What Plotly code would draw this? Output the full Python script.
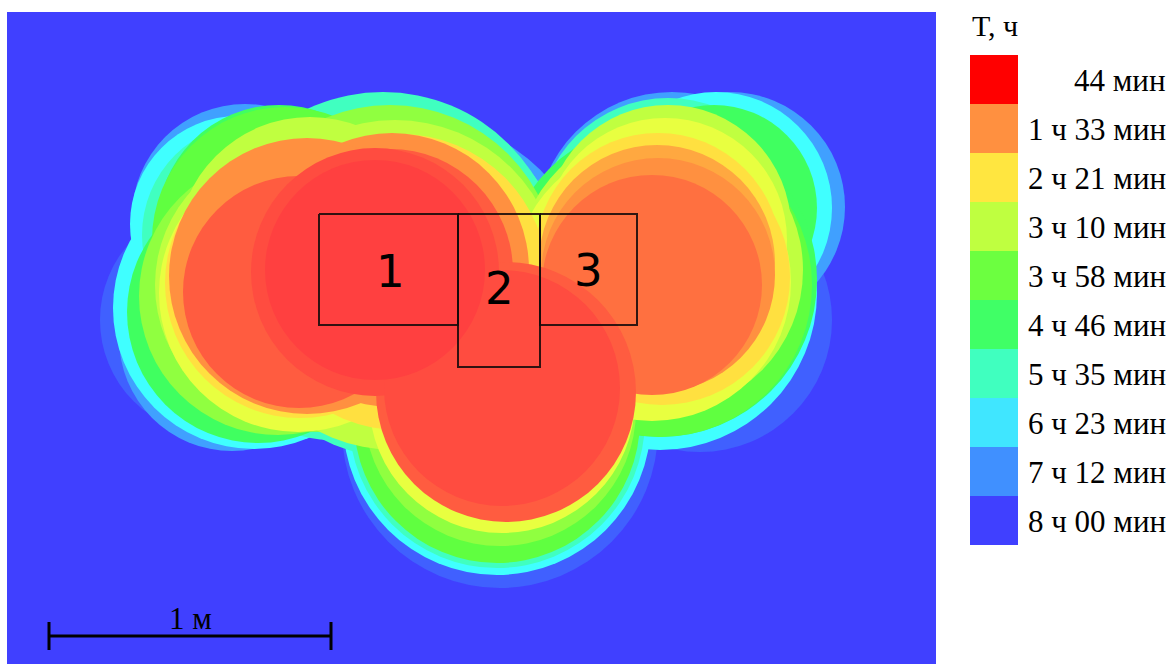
import plotly.graph_objects as go

W, H = 1169, 664

# Colour for each exposure band, hottest first
BAND_COLORS = ["#FF4040", "#FF4C40", "#FF5C40", "#FF7040", "#FF9040", "#FFA840", "#FFE040",
               "#E8FF40", "#C0FF40", "#90FF40", "#60FF40", "#40FF60", "#40FFC0", "#40FFFF",
               "#40A0FF", "#4060FF"]
BACKGROUND = "#4040FF"

# Iso-time discs (map units, 282 units = 1 m)
DISC_BAND = [0, 1, 2, 4, 6, 8, 9, 12, 12, 14,
             2, 4, 6, 7, 8, 8, 9, 10, 11, 11, 12, 13, 13, 14, 14, 15, 12, 9,
             3, 4, 5, 6, 6, 7, 7, 8, 8, 10, 11, 11, 12, 13, 13, 14, 14, 15,
             1, 2, 7, 9, 10, 12, 13, 14, 15]
DISC_X = [375, 375, 390, 392, 400, 395, 390, 383, 400, 420,
          299, 307, 300, 298, 310, 295, 278, 285, 279, 258, 255, 238, 254, 245, 232, 215, 330, 320,
          652, 658, 657, 662, 658, 652, 665, 668, 660, 660, 714, 660, 668, 716, 660, 672, 730, 700,
          502, 506, 502, 500, 497, 497, 497, 520, 500]
DISC_Y = [270, 272, 272, 270, 282, 285, 272, 270, 285, 290,
          292, 276, 283, 293, 250, 285, 296, 240, 227, 312, 235, 224, 308, 217, 338, 320, 340, 335,
          285, 275, 263, 277, 256, 282, 240, 228, 270, 285, 208, 280, 228, 208, 293, 228, 207, 320,
          388, 392, 400, 410, 420, 420, 421, 420, 430]
DISC_R = [110, 124, 123, 137, 148, 165, 167, 178, 173, 170,
          116, 138, 135, 139, 133, 140, 139, 133, 122, 131, 113, 108, 141, 113, 113, 115, 100, 97,
          110, 117, 118, 128, 123, 139, 122, 123, 143, 152, 103, 157, 130, 116, 157, 136, 115, 132,
          118, 130, 133, 136, 143, 148, 154, 130, 158]

ROOM_X = [[319, 458, 458, 319, 319], [458, 540, 540, 458, 458], [540, 637, 637, 540, 540]]
ROOM_Y = [[214, 214, 325, 325, 214], [214, 214, 367, 367, 214], [214, 214, 325, 325, 214]]
ROOM_NAMES = ["1", "2", "3"]
ROOM_LABEL_X = [390, 499, 588]
ROOM_LABEL_Y = [271, 288, 270]

SCALE_X = [49, 331]
SCALE_Y = 636
SCALE_TICK = [622, 650]
SCALE_TEXT = "1 м"

LEGEND_TITLE = "T, ч"
LEGEND_LABELS = ["44 мин", "1 ч 33 мин", "2 ч 21 мин", "3 ч 10 мин", "3 ч 58 мин",
                 "4 ч 46 мин", "5 ч 35 мин", "6 ч 23 мин", "7 ч 12 мин", "8 ч 00 мин"]
LEGEND_COLORS = ["#FF0000", "#FF9040", "#FFE640", "#BFFF40", "#6CFF40",
                 "#40FF66", "#40FFBF", "#40E6FF", "#4090FF", "#4040FF"]

SERIF = "Liberation Serif"
fig = go.Figure()

# Rooms
for xs, ys in zip(ROOM_X, ROOM_Y):
    fig.add_trace(go.Scatter(x=xs, y=ys, mode="lines", showlegend=False, hoverinfo="skip",
                             line=dict(color="rgba(20,10,10,0.88)", width=2)))
# Scale bar
fig.add_trace(go.Scatter(x=SCALE_X, y=[SCALE_Y, SCALE_Y], mode="lines", showlegend=False,
                         hoverinfo="skip", line=dict(color="black", width=3)))
for sx in SCALE_X:
    fig.add_trace(go.Scatter(x=[sx, sx], y=SCALE_TICK, mode="lines", showlegend=False,
                             hoverinfo="skip", line=dict(color="black", width=3)))

# Legend swatches
fig.add_trace(go.Bar(x=[1] * len(LEGEND_LABELS), y=LEGEND_LABELS, orientation="h", width=1,
                     marker=dict(color=LEGEND_COLORS, line=dict(width=0)),
                     xaxis="x2", yaxis="y2", showlegend=False, hoverinfo="skip"))

# Discs are painted from the coolest band to the hottest
order = sorted(range(len(DISC_BAND)), key=lambda i: -DISC_BAND[i])
shapes = [dict(type="circle", xref="x", yref="y", layer="below",
               x0=DISC_X[i] - DISC_R[i], x1=DISC_X[i] + DISC_R[i],
               y0=DISC_Y[i] - DISC_R[i], y1=DISC_Y[i] + DISC_R[i],
               fillcolor=BAND_COLORS[DISC_BAND[i]], line=dict(width=0))
          for i in order]

annotations = [dict(x=x, y=y, xref="x", yref="y", text=t, showarrow=False,
                    font=dict(family="DejaVu Sans", size=45, color="black"))
               for x, y, t in zip(ROOM_LABEL_X, ROOM_LABEL_Y, ROOM_NAMES)]
annotations.append(dict(x=sum(SCALE_X) / 2, y=618, xref="x", yref="y", text=SCALE_TEXT, showarrow=False,
                        font=dict(family=SERIF, size=31, color="black")))
annotations.append(dict(x=995 / W, y=1 - 25 / H, xref="paper", yref="paper", text=LEGEND_TITLE,
                        xanchor="center", yanchor="middle", showarrow=False,
                        font=dict(family=SERIF, size=30, color="black")))
for lab in LEGEND_LABELS:
    annotations.append(dict(x=1168 / W, y=lab, xref="paper", yref="y2", text=lab, showarrow=False,
                            xanchor="right", yanchor="middle", yshift=-1,
                            font=dict(family=SERIF, size=31, color="black")))

fig.update_layout(
    width=W, height=H, autosize=False,
    margin=dict(l=0, r=0, t=0, b=0),
    paper_bgcolor="white", plot_bgcolor=BACKGROUND,
    bargap=0, shapes=shapes, annotations=annotations,
    xaxis=dict(domain=[7 / W, 936 / W], range=[7, 936], visible=False, fixedrange=True),
    yaxis=dict(domain=[0, 1 - 12 / H], range=[664, 12], visible=False, fixedrange=True),
    xaxis2=dict(domain=[970 / W, 1018 / W], range=[0, 1], visible=False, anchor="y2", fixedrange=True),
    yaxis2=dict(domain=[1 - 545 / H, 1 - 55 / H], visible=False, anchor="x2", autorange="reversed",
                type="category", fixedrange=True),
)

fig.write_html("out.html", config={"displayModeBar": False},
               post_script="document.body.style.margin='0';")
